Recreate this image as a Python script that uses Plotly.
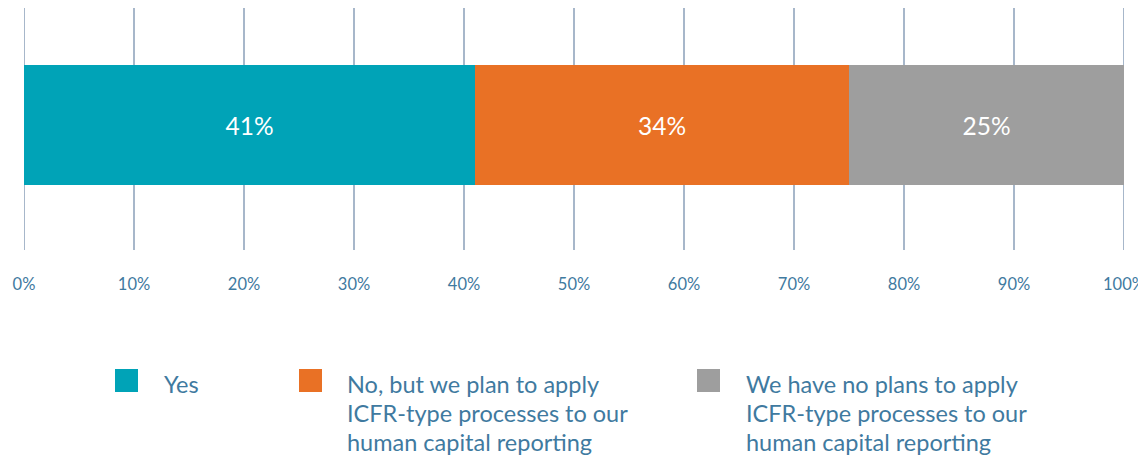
import plotly.graph_objects as go

categories = ["Response"]
series_names = ["Yes", "No, but we plan to apply", "We have no plans to apply"]
legend_lines = [
    ["Yes"],
    ["No, but we plan to apply", "ICFR-type processes to our", "human capital reporting"],
    ["We have no plans to apply", "ICFR-type processes to our", "human capital reporting"],
]
series_values = [41, 34, 25]
series_colors = ["#00a3b7", "#e97125", "#9e9e9e"]
tick_values = [0, 10, 20, 30, 40, 50, 60, 70, 80, 90, 100]
tick_labels = [f"{v}%" for v in tick_values]

# page body has an 8px margin; size the figure so it fits the window
OFF = 8
W, H = 1146 - OFF, 455 - OFF
L, R, T, B = 24 - OFF, 22, 8 - OFF, 205
PW, PH = W - L - R, H - T - B

TEXT_COLOR = "#3f7aa0"
GRID_COLOR = "#a7b7ca"
FONT = "Lato"

fig = go.Figure()
for name, val, col in zip(series_names, series_values, series_colors):
    fig.add_trace(go.Bar(
        y=categories, x=[val], orientation="h", name=name,
        marker=dict(color=col, line=dict(width=0)),
        text=[f"{val}%"], textposition="inside", insidetextanchor="middle",
        textfont=dict(color="white", size=24.5, family=FONT),
        showlegend=False, hoverinfo="skip",
    ))

# helpers: convert reference page pixels to paper coords
def px_x(x):
    return (x - OFF - L) / PW

def px_y(y):
    return (T + PH - (y - OFF)) / PH

shapes = []
# edge gridlines (0% and 100%) which plotly omits at the range bounds
for v in (tick_values[0], tick_values[-1]):
    shapes.append(dict(type="line", xref="x", yref="paper", x0=v, x1=v, y0=0, y1=1,
                       line=dict(color=GRID_COLOR, width=2), layer="below"))

legend_pos = [(115, 163), (299, 346), (697, 745)]
line_centers = [384, 413, 442]
annotations = []
for (sx, tx), lines, col in zip(legend_pos, legend_lines, series_colors):
    shapes.append(dict(type="rect", xref="paper", yref="paper",
                       x0=px_x(sx), x1=px_x(sx + 23), y0=px_y(392), y1=px_y(369),
                       fillcolor=col, line=dict(width=0)))
    for line, yc in zip(lines, line_centers):
        annotations.append(dict(xref="paper", yref="paper", x=px_x(tx - 1), y=px_y(yc),
                                xanchor="left", yanchor="middle", align="left",
                                showarrow=False, text=line,
                                font=dict(size=23.5, color=TEXT_COLOR, family=FONT)))

fig.update_layout(
    width=W, height=H,
    margin=dict(l=L, r=R, t=T, b=B, pad=0),
    paper_bgcolor="white", plot_bgcolor="white",
    barmode="stack", bargap=0.504,
    font=dict(family=FONT, color=TEXT_COLOR),
    shapes=shapes, annotations=annotations,
    xaxis=dict(range=[0, 100], tickvals=tick_values, ticktext=tick_labels,
               showgrid=True, gridcolor=GRID_COLOR, gridwidth=2,
               zeroline=False, showline=False, ticks="",
               ticklabelstandoff=22,
               tickfont=dict(size=16.5, color=TEXT_COLOR, family=FONT)),
    yaxis=dict(range=[-0.5208, 0.4875], showticklabels=False, showgrid=False,
               zeroline=False, showline=False),
)

fig.write_html(
    "out.html",
    config={"displayModeBar": False},
    post_script=("document.documentElement.style.overflow='hidden';"
                 "document.body.style.overflow='hidden';"),
)
